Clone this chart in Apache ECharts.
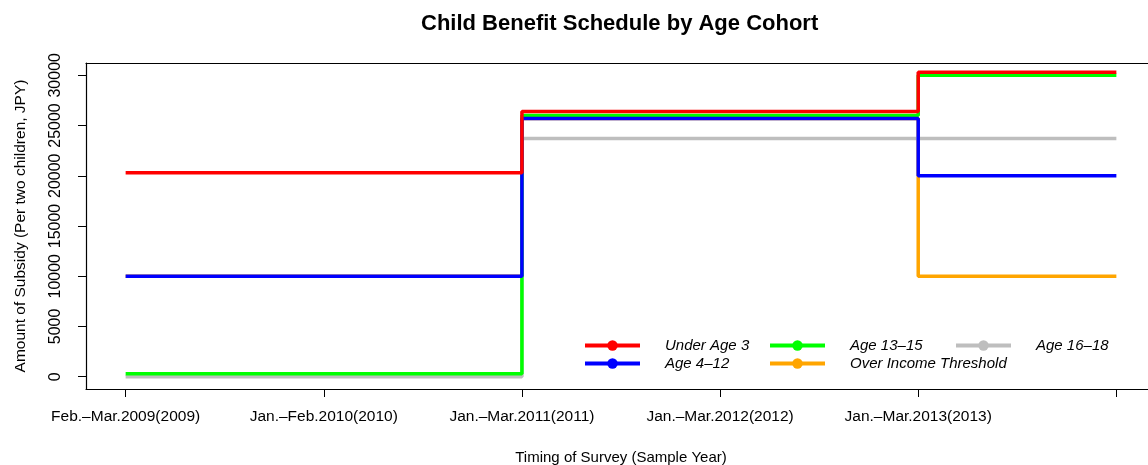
<!DOCTYPE html>
<html>
<head>
<meta charset="utf-8">
<script src="https://cdn.jsdelivr.net/npm/echarts@6/dist/echarts.min.js"></script>
<style>
  html, body { margin: 0; padding: 0; background: #fff; }
  #chart { width: 1148px; height: 465px; }
</style>
</head>
<body>
<div id="chart"></div>
<script>
// 横轴：调查时间
var surveyLabels = ['Feb.–Mar.2009(2009)', 'Jan.–Feb.2010(2010)', 'Jan.–Mar.2011(2011)',
                    'Jan.–Mar.2012(2012)', 'Jan.–Mar.2013(2013)', ''];
var surveyIdx = [0, 1, 2, 3, 4, 5];

// 各年龄段的补贴（两个孩子）
var under3     = [20300, 20300, 26400, 26400, 30300, 30300];
var age4to12   = [10000, 10000, 25700, 25700, 20000, 20000];
var age13to15  = [300, 300, 26000, 26000, 30000, 30000];
var age16to18  = [0, 0, 23700, 23700, 23700, 23700];
var overIncome = [10000, 10000, 25700, 25700, 10000, 10000];

var yTicks = [0, 5000, 10000, 15000, 20000, 25000, 30000];

var FONT = '"Liberation Sans", Arial, Helvetica, sans-serif';

function pairs(vals) {
    return surveyIdx.map(function (x, i) { return [x, vals[i]]; });
}

function stepLine(name, vals, color) {
    return {
        name: name,
        type: 'line',
        step: 'end',
        data: pairs(vals),
        symbol: 'circle',
        symbolSize: 10,
        showSymbol: false,
        lineStyle: { width: 3.5, color: color },
        itemStyle: { color: color },
        animation: false
    };
}

function legendCol(left, names) {
    return {
        orient: 'vertical',
        left: left,
        top: 333,
        itemWidth: 55,
        itemHeight: 13,
        itemGap: 3,
        selectedMode: false,
        data: names,
        lineStyle: { width: 4 },
        textStyle: {
            fontFamily: FONT,
            fontSize: 15,
            fontStyle: 'italic',
            color: '#000',
            lineHeight: 13,
            padding: [0, 0, 0, 20]
        }
    };
}

var frameLine = { show: true, onZero: false, lineStyle: { color: '#000', width: 1.2 } };

var myChart = echarts.init(document.getElementById('chart'));

var option = {
    backgroundColor: '#fff',
    animation: false,
    title: {
        text: 'Child Benefit Schedule by Age Cohort',
        left: 421,
        top: 13,
        padding: 0,
        textStyle: { fontFamily: FONT, fontSize: 22, fontWeight: 'bold', color: '#000' }
    },
    legend: [
        legendCol(578, ['Under Age 3', 'Age 4–12']),
        legendCol(763, ['Age 13–15', 'Over Income Threshold']),
        legendCol(949, ['Age 16–18'])
    ],
    grid: {
        left: 86,
        width: 1070,
        top: 63,
        bottom: 76,
        outerBoundsMode: 'none'
    },
    xAxis: [{
        type: 'value',
        min: -0.2,
        max: 5.2,
        name: 'Timing of Survey (Sample Year)',
        nameLocation: 'middle',
        nameGap: 61,
        nameTextStyle: { fontFamily: FONT, fontSize: 15, color: '#000' },
        axisLine: frameLine,
        splitLine: { show: false },
        axisTick: {
            show: true,
            length: 8,
            customValues: surveyIdx,
            lineStyle: { color: '#000', width: 1 }
        },
        axisLabel: {
            customValues: surveyIdx,
            margin: 20,
            fontFamily: FONT,
            fontSize: 15.5,
            color: '#000',
            formatter: function (v) {
                return surveyLabels[Math.round(v)] || '';
            }
        }
    }, {
        // 上边框
        type: 'value',
        position: 'top',
        min: -0.2,
        max: 5.2,
        axisLine: frameLine,
        axisTick: { show: false },
        axisLabel: { show: false },
        splitLine: { show: false }
    }],
    yAxis: {
        type: 'value',
        min: -1223,
        max: 31222,
        name: 'Amount of Subsidy (Per two children, JPY)',
        nameLocation: 'middle',
        nameGap: 57,
        nameTextStyle: { fontFamily: FONT, fontSize: 15.5, color: '#000' },
        axisLine: frameLine,
        splitLine: { show: false },
        axisTick: {
            show: true,
            length: 8,
            customValues: yTicks,
            lineStyle: { color: '#000', width: 1 }
        },
        axisLabel: {
            customValues: yTicks,
            rotate: 90,
            margin: 22,
            fontFamily: FONT,
            fontSize: 16,
            color: '#000',
            formatter: function (v) { return String(v); }
        }
    },
    series: [
        // 画的顺序：橙色在最下面，红色在最上面
        stepLine('Over Income Threshold', overIncome, '#FFA500'),
        stepLine('Age 16–18', age16to18, '#BEBEBE'),
        stepLine('Age 13–15', age13to15, '#00FF00'),
        stepLine('Age 4–12', age4to12, '#0000FF'),
        stepLine('Under Age 3', under3, '#FF0000')
    ]
};

myChart.setOption(option);
</script>
</body>
</html>
